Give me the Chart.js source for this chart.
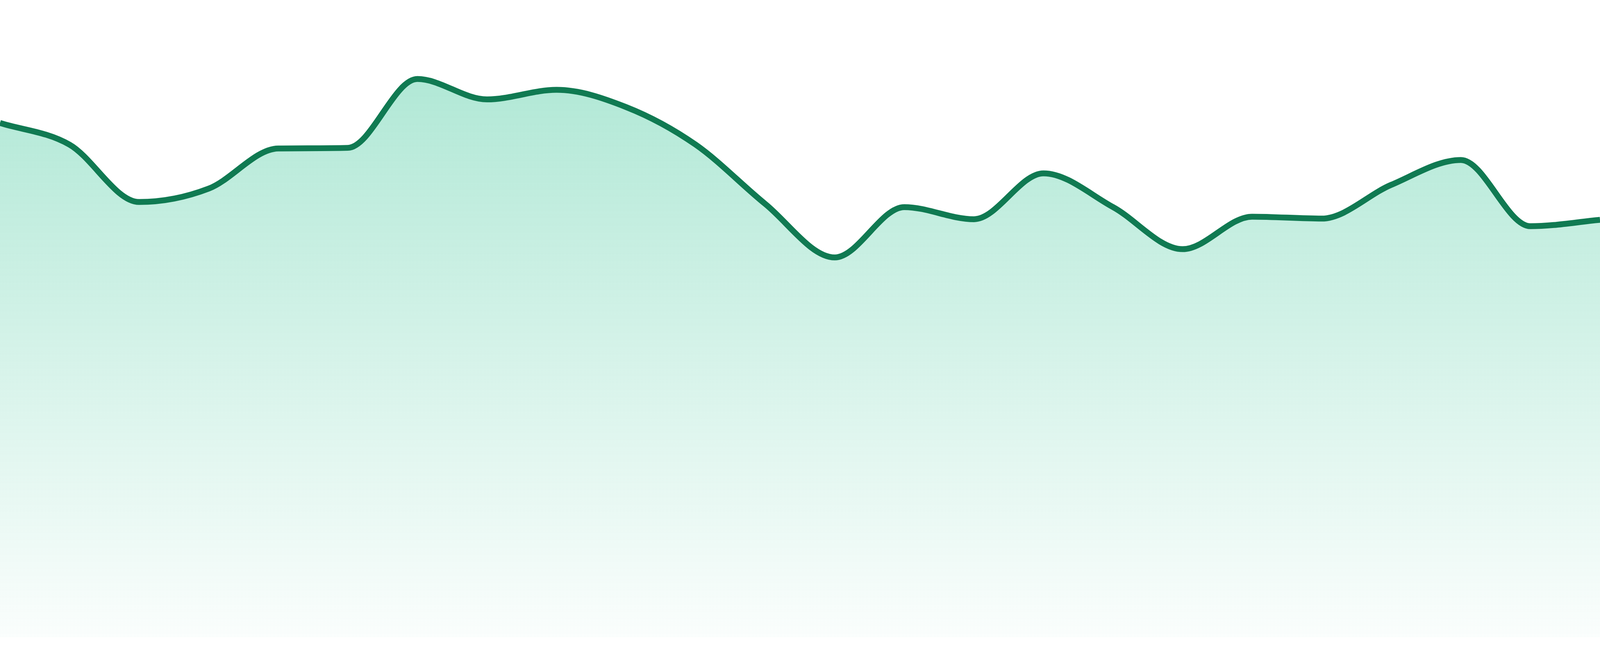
<!DOCTYPE html>
<html>
<head>
<meta charset="utf-8">
<script src="https://cdn.jsdelivr.net/npm/chart.js@4"></script>
<style>
  html, body { margin: 0; padding: 0; background: #fff; overflow: hidden; }
  #wrap { width: 100vw; height: 100vh; position: relative; }
</style>
</head>
<body>
<div id="wrap"><canvas id="areaChart"></canvas></div>
<script>
// x positions (no visible tick labels on the reference)
let labels = ["1", "2", "3", "4", "5", "6", "7", "8", "9", "10", "11", "12",
              "13", "14", "15", "16", "17", "18", "19", "20", "21", "22", "23", "24"];

// series values (y axis 0..100)
let values = [80.7, 77.3, 68.3, 70.4, 76.7, 76.8, 87.6, 84.4, 85.9, 83.2, 77.3, 68.0,
              59.6, 67.5, 65.6, 72.8, 67.5, 60.9, 66.0, 65.7, 71.0, 74.9, 64.5, 65.5];

let yMin = 0;
let yMax = 100;

// the reference is 4800x1680; scale sizes to the real viewport
let s = window.innerHeight / 1680;

function fillGradient(context) {
    let chart = context.chart;
    let area = chart.chartArea;
    if (!area) return "rgba(16,185,129,0.2)";
    let g = chart.ctx.createLinearGradient(0, area.top, 0, area.bottom);
    g.addColorStop(0, "rgba(16,185,129,0.37)");
    g.addColorStop(1, "rgba(16,185,129,0.02)");
    return g;
}

new Chart(document.getElementById("areaChart"), {
    type: "line",
    data: {
        labels: labels,
        datasets: [{
            data: values,
            borderColor: "#107a52",
            borderWidth: 15 * s,
            backgroundColor: fillGradient,
            fill: "start",
            pointRadius: 0,
            cubicInterpolationMode: "monotone"
        }]
    },
    options: {
        responsive: true,
        maintainAspectRatio: false,
        animation: false,
        layout: { padding: { top: 0, right: 0, bottom: 48 * s, left: 0 } },
        plugins: {
            legend: { display: false },
            tooltip: { enabled: false }
        },
        scales: {
            x: { display: false, offset: false },
            y: { display: false, min: yMin, max: yMax }
        }
    }
});
</script>
</body>
</html>
